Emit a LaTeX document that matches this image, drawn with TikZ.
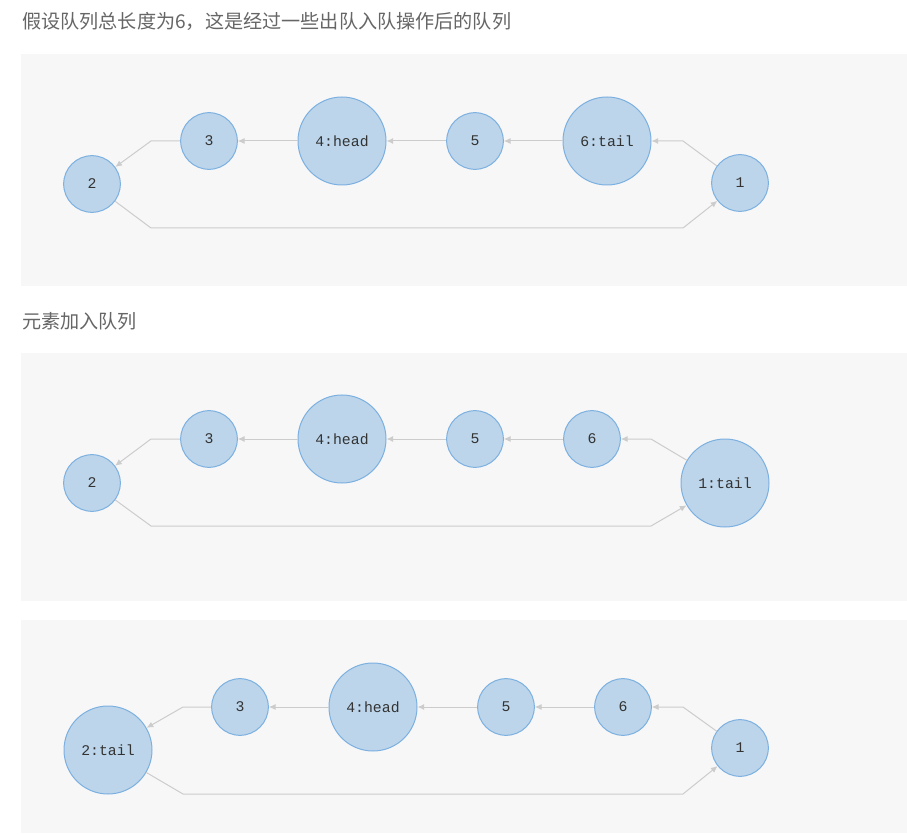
\documentclass[tikz,border=0pt]{standalone}
\usepackage{fontspec}
\setmonofont{Liberation Mono}
\newfontfamily\cjk{Noto Sans CJK SC}
\usetikzlibrary{arrows.meta}
\definecolor{panelbg}{HTML}{F7F7F7}
\definecolor{nodefill}{HTML}{BCD5EA}
\definecolor{nodeline}{HTML}{7CB0E0}
\definecolor{edgecol}{HTML}{CCCCCC}
\definecolor{txtcol}{HTML}{333333}
\definecolor{titlecol}{HTML}{666666}
\tikzset{
  panel/.style={fill=panelbg, draw=none},
  qnode/.style={circle, fill=nodefill, draw=nodeline, line width=0.75pt, inner sep=0pt,
    minimum size=42.5pt, text=txtcol, font=\ttfamily\fontsize{11.1}{13}\selectfont},
  bignode/.style={qnode, minimum size=66pt},
  edge/.style={draw=edgecol, line width=0.75pt, -{Latex[length=5pt,width=4.5pt]}},
  title/.style={anchor=west, inner sep=0pt, text=titlecol, font=\cjk\fontsize{14.35}{16}\selectfont}
}
\begin{document}
\begin{tikzpicture}[x=0.75pt,y=-0.75pt]
\useasboundingbox (0,0) rectangle (907,834);
\fill[white] (0,0) rectangle (907,834);
% titles
\node[title] (t1) at (22,21) {假设队列总长度为6，这是经过一些出队入队操作后的队列};
\node[title] (t2) at (22,321) {元素加入队列};
% panels
\fill[panel] (21,54) rectangle (907,286);
\fill[panel] (21,353) rectangle (907,601);
\fill[panel] (21,620) rectangle (907,833);
% ---------- panel 1 ----------
\node[qnode] (a2) at (92,184) {2};
\node[qnode] (a3) at (209,141) {3};
\node[bignode] (a4) at (342,141) {4:head};
\node[qnode] (a5) at (475,141) {5};
\node[bignode] (a6) at (607,141) {6:tail};
\node[qnode] (a1) at (740,183) {1};
\coordinate (a16) at (683,141);
\coordinate (a32) at (151,141);
\coordinate (a2b) at (151,228);
\coordinate (a1b) at (683,228);
\draw[edge] (a1) -- (a16) -- (a6);
\draw[edge] (a6) -- (a5);
\draw[edge] (a5) -- (a4);
\draw[edge] (a4) -- (a3);
\draw[edge] (a3) -- (a32) -- (a2);
\draw[edge] (a2) -- (a2b) -- (a1b) -- (a1);
% ---------- panel 2 ----------
\node[qnode] (b2) at (92,483) {2};
\node[qnode] (b3) at (209,439) {3};
\node[bignode] (b4) at (342,439) {4:head};
\node[qnode] (b5) at (475,439) {5};
\node[qnode] (b6) at (592,439) {6};
\node[bignode] (b1) at (725,483) {1:tail};
\coordinate (b16) at (651,439);
\coordinate (b32) at (151,439);
\coordinate (b2b) at (151,526);
\coordinate (b1b) at (651,526);
\draw[edge] (b1) -- (b16) -- (b6);
\draw[edge] (b6) -- (b5);
\draw[edge] (b5) -- (b4);
\draw[edge] (b4) -- (b3);
\draw[edge] (b3) -- (b32) -- (b2);
\draw[edge] (b2) -- (b2b) -- (b1b) -- (b1);
% ---------- panel 3 ----------
\node[bignode] (c2) at (108,750) {2:tail};
\node[qnode] (c3) at (240,707) {3};
\node[bignode] (c4) at (373,707) {4:head};
\node[qnode] (c5) at (506,707) {5};
\node[qnode] (c6) at (623,707) {6};
\node[qnode] (c1) at (740,748) {1};
\coordinate (c16) at (683,707);
\coordinate (c32) at (183,707);
\coordinate (c2b) at (183,794);
\coordinate (c1b) at (683,794);
\draw[edge] (c1) -- (c16) -- (c6);
\draw[edge] (c6) -- (c5);
\draw[edge] (c5) -- (c4);
\draw[edge] (c4) -- (c3);
\draw[edge] (c3) -- (c32) -- (c2);
\draw[edge] (c2) -- (c2b) -- (c1b) -- (c1);
\end{tikzpicture}
\end{document}
